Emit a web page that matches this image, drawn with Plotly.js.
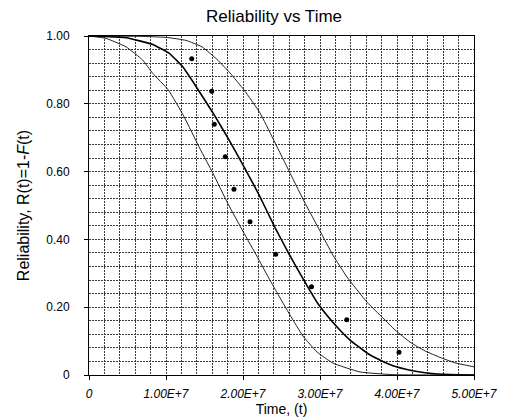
<!DOCTYPE html>
<html>
<head>
<meta charset="utf-8">
<script src="https://cdn.plot.ly/plotly-3.0.1.min.js"></script>
<style>html,body{margin:0;padding:0;background:#fff;}#chart{width:505px;height:417px;}</style>
</head>
<body>
<div id="chart"></div>
<script>
// Observed failure times and median-rank reliability
const obsTime = [1.334e7, 1.594e7, 1.627e7, 1.770e7, 1.883e7, 2.091e7, 2.425e7, 2.890e7, 3.347e7, 4.026e7];
const obsRel  = [0.933, 0.837, 0.740, 0.644, 0.548, 0.452, 0.356, 0.260, 0.163, 0.067];

// Lower bound curve
const lowTime = [0, 0.221e7, 0.481e7, 0.697e7, 0.827e7, 1.030e7, 1.234e7, 1.442e7, 1.610e7, 1.805e7, 2.004e7, 2.182e7, 2.325e7, 2.442e7, 2.610e7, 2.779e7, 2.961e7, 3.169e7, 3.519e7, 3.948e7, 5.0e7];
const lowRel  = [1.000, 0.993, 0.968, 0.929, 0.890, 0.841, 0.762, 0.667, 0.595, 0.505, 0.422, 0.350, 0.290, 0.243, 0.177, 0.115, 0.068, 0.035, 0.009, 0.001, 0.000];

// Fitted (middle) curve
const fitTime = [0, 0.481e7, 0.827e7, 1.043e7, 1.217e7, 1.390e7, 1.610e7, 1.805e7, 2.013e7, 2.195e7, 2.416e7, 2.597e7, 2.805e7, 2.974e7, 3.169e7, 3.390e7, 3.610e7, 3.779e7, 3.948e7, 4.169e7, 4.390e7, 4.688e7, 5.0e7];
const fitRel  = [1.000, 0.995, 0.975, 0.949, 0.909, 0.851, 0.773, 0.699, 0.614, 0.537, 0.435, 0.357, 0.274, 0.210, 0.155, 0.103, 0.065, 0.044, 0.027, 0.014, 0.006, 0.001, 0.000];

// Upper bound curve
const upTime = [0, 0.662e7, 1.000e7, 1.260e7, 1.468e7, 1.662e7, 1.831e7, 2.013e7, 2.221e7, 2.390e7, 2.571e7, 2.792e7, 3.000e7, 3.169e7, 3.351e7, 3.610e7, 3.818e7, 3.974e7, 4.169e7, 4.364e7, 4.558e7, 4.753e7, 5.0e7];
const upRel  = [1.000, 0.999, 0.996, 0.987, 0.968, 0.931, 0.891, 0.841, 0.773, 0.697, 0.614, 0.513, 0.425, 0.353, 0.289, 0.215, 0.168, 0.133, 0.097, 0.071, 0.052, 0.036, 0.024];

const xTickVals = [0, 1e7, 2e7, 3e7, 4e7, 5e7];
const xTickText = ['0', '1.00E+7', '2.00E+7', '3.00E+7', '4.00E+7', '5.00E+7'];
const yTickVals = [0, 0.2, 0.4, 0.6, 0.8, 1.0];
const yTickText = ['0', '0.20', '0.40', '0.60', '0.80', '1.00'];

const FONT = 'Liberation Sans, Arial, sans-serif';
const GRID = '#3a3a3a';

const traces = [
  {x: lowTime, y: lowRel, mode: 'lines', line: {color: '#222', width: 1, shape: 'spline', smoothing: 0.4}, hoverinfo: 'skip'},
  {x: upTime, y: upRel, mode: 'lines', line: {color: '#222', width: 1, shape: 'spline', smoothing: 0.4}, hoverinfo: 'skip'},
  {x: fitTime, y: fitRel, mode: 'lines', line: {color: '#000', width: 1.6, shape: 'spline', smoothing: 0.4}, hoverinfo: 'skip'},
  {x: obsTime, y: obsRel, mode: 'markers', marker: {color: '#000', size: 5, symbol: 'circle'}}
];

const layout = {
  width: 505, height: 417,
  margin: {l: 89, r: 31, t: 36, b: 42},
  paper_bgcolor: '#fff', plot_bgcolor: '#fff',
  showlegend: false,
  font: {family: FONT, color: '#000', size: 12},
  title: {text: 'Reliability vs Time', font: {family: FONT, size: 17, color: '#000'},
          x: 0.5426, xanchor: 'center', xref: 'container', y: 0.962, yanchor: 'middle', yref: 'container'},
  xaxis: {
    range: [0, 5e7], tickmode: 'array', tickvals: xTickVals, ticktext: xTickText,
    tickfont: {family: FONT, size: 12, style: 'italic'},
    ticks: 'outside', ticklen: 4, tickcolor: '#000', ticklabelstandoff: 4,
    showline: true, linecolor: '#000', linewidth: 1, mirror: true,
    showgrid: true, gridcolor: GRID, gridwidth: 1, griddash: '2px,1px',
    minor: {tickmode: 'linear', tick0: 0, dtick: 2e6, showgrid: true, gridcolor: GRID, gridwidth: 1, griddash: '2px,1px', ticks: ''},
    zeroline: false, fixedrange: true,
    title: {text: 'Time, (t)', font: {family: FONT, size: 14}, standoff: 0}
  },
  yaxis: {
    range: [0, 1.0], tickmode: 'array', tickvals: yTickVals, ticktext: yTickText,
    tickfont: {family: FONT, size: 12},
    ticks: 'outside', ticklen: 4, tickcolor: '#000', ticklabelstandoff: 12,
    showline: true, linecolor: '#000', linewidth: 1, mirror: true,
    showgrid: true, gridcolor: GRID, gridwidth: 1, griddash: '2px,1px',
    minor: {tickmode: 'linear', tick0: 0, dtick: 0.04, showgrid: true, gridcolor: GRID, gridwidth: 1, griddash: '2px,1px', ticks: ''},
    zeroline: false, fixedrange: true,
    title: {text: 'Reliability, R(t)=1-<i>F</i>(t)', font: {family: FONT, size: 16}, standoff: 12}
  }
};

Plotly.newPlot('chart', traces, layout, {staticPlot: true, displayModeBar: false});
</script>
</body>
</html>
